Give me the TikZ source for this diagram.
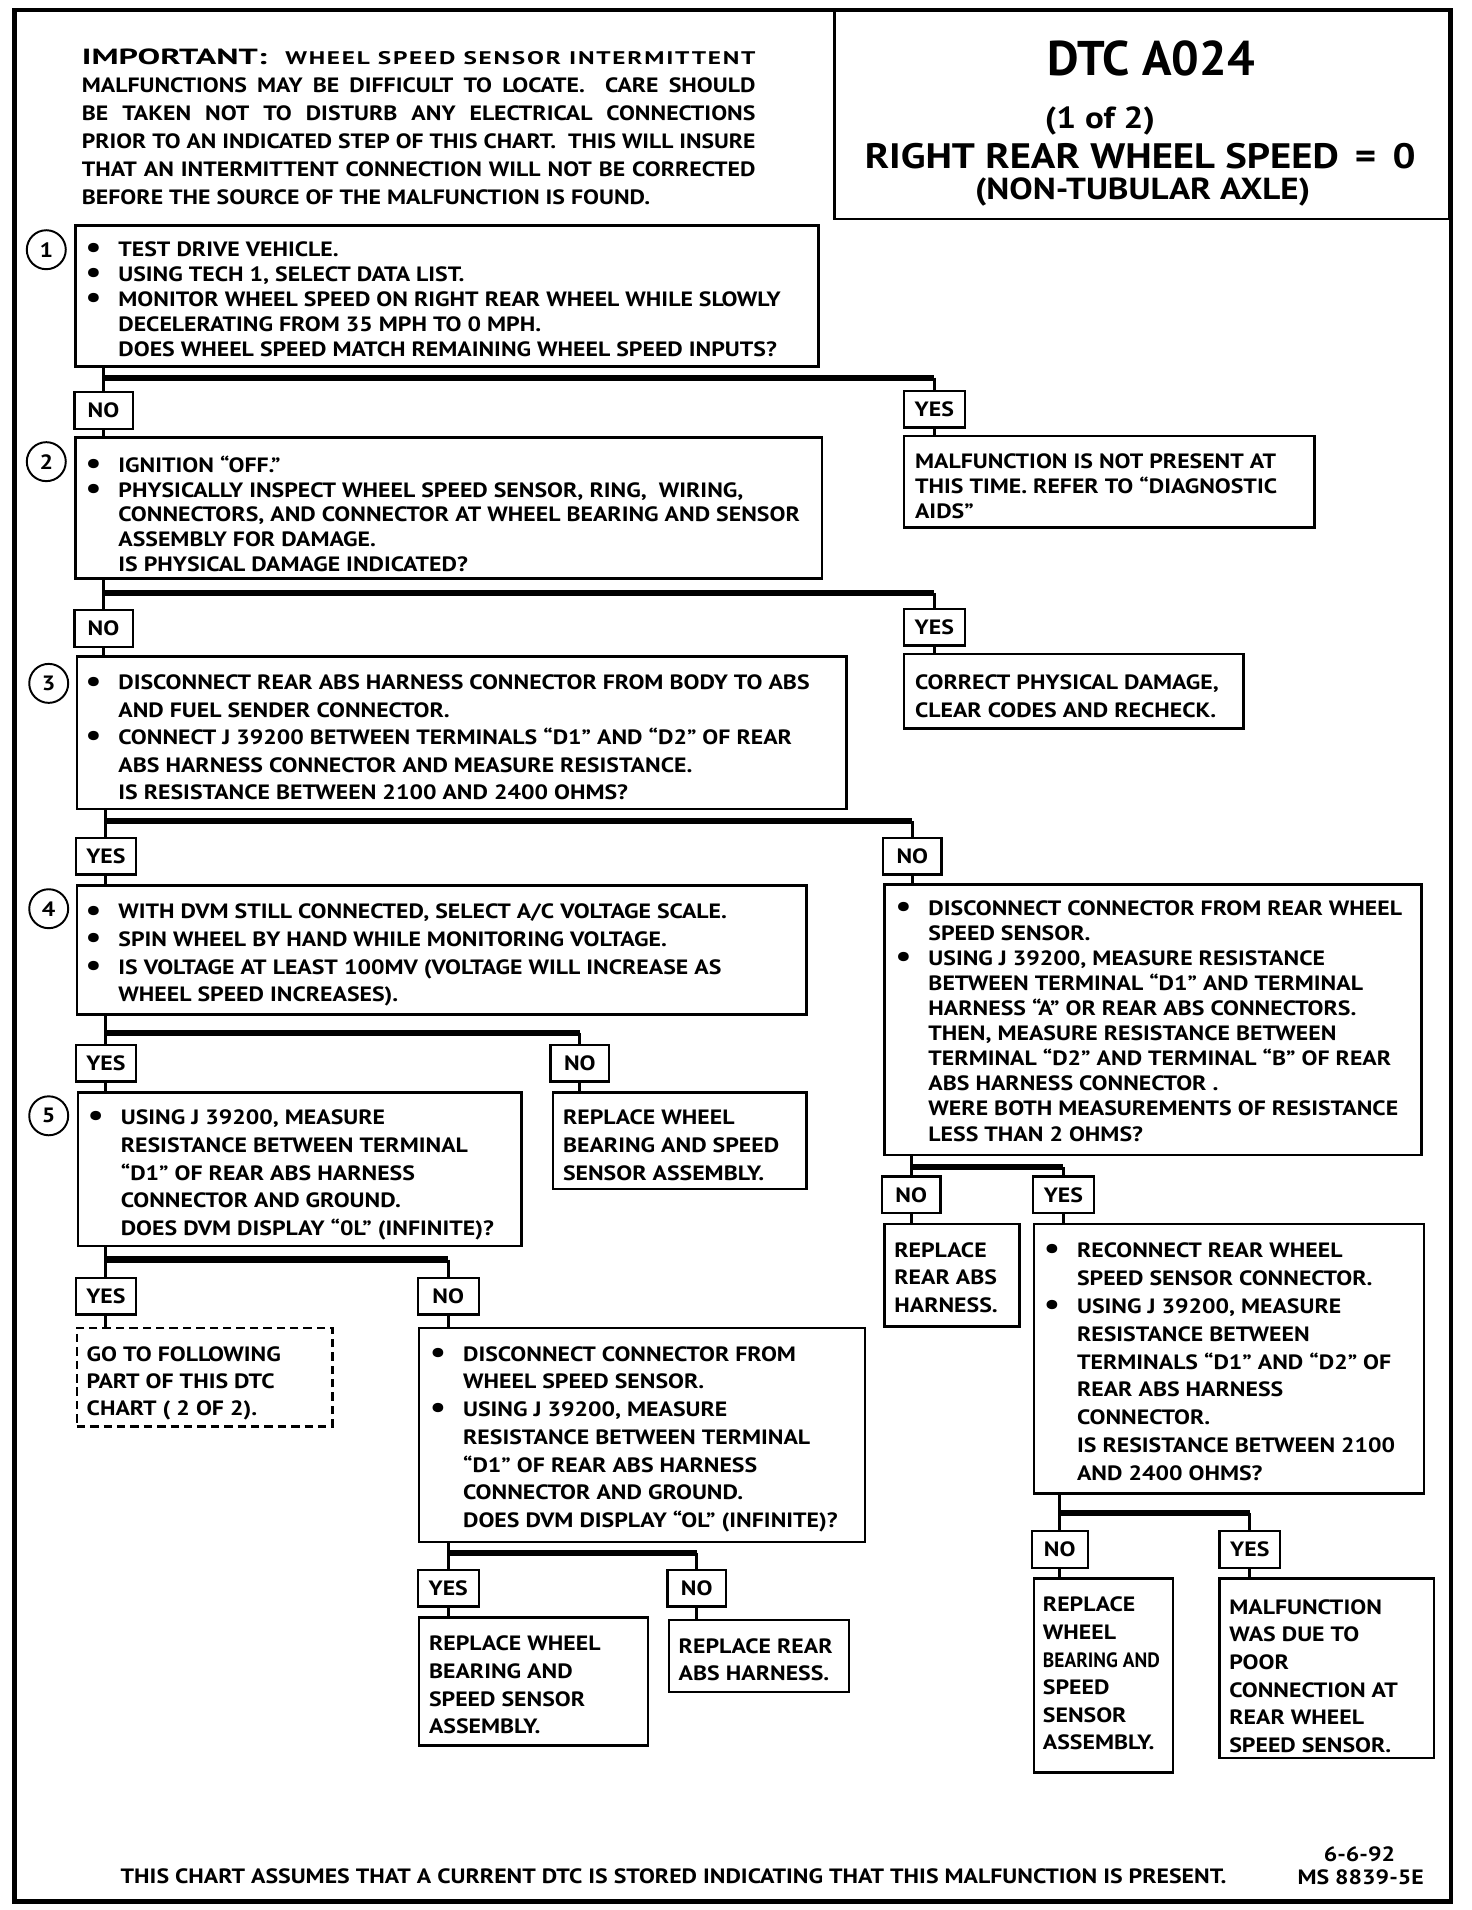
\documentclass[tikz,border=0pt]{standalone}
\usepackage{graphicx}
\usepackage{fontspec}
\setmainfont{PT Sans}[FakeStretch=1.15]
\newfontfamily\plainsans{PT Sans}
\newcommand{\blt}{\makebox[27pt][l]{\raisebox{-1pt}[0pt][0pt]{\fontsize{25}{20}\selectfont •}}}
\newcommand{\nbl}{\hspace*{27pt}}
\newcommand{\jline}[1]{\setbox0\hbox{#1}\ifdim\wd0>553pt \resizebox{553pt}{\height}{#1}\else\makebox[553pt][s]{#1}\fi}
\begin{document}
\begin{tikzpicture}[x=1pt,y=-1pt,
  box/.style={draw, line width=2pt, anchor=north west, inner sep=0pt},
  lab/.style={draw, line width=2pt, minimum width=48pt, minimum height=30pt, inner sep=0pt, font=\bfseries\fontsize{17}{17}\selectfont},
  txt/.style={font=\bfseries\fontsize{17}{#1}\selectfont, anchor=north west, yshift=11pt, inner sep=0pt, align=left, execute at begin node={\rule{0pt}{15pt}}},
  bar/.style={line width=5pt},
  con/.style={line width=2.5pt},
  num/.style={draw, circle, line width=1.6pt, minimum size=32pt, inner sep=0pt, font=\bfseries\fontsize{17}{17}\selectfont}]
\useasboundingbox (0,0) rectangle (1208,1568);
% frame and title
\draw[line width=3.5pt] (12,8) rectangle (1191,1561);
\draw[line width=2pt] (685,8) rectangle (1190,180);
\node[font=\plainsans\bfseries\fontsize{40}{40}\selectfont] (t1) at (945,48) {DTC A024};
\node[font=\bfseries\fontsize{25}{25}\selectfont] (t2) at (903,99) {(1 of 2)};
\node[font=\bfseries\fontsize{29}{29}\selectfont] (t3) at (936,128) {RIGHT REAR WHEEL SPEED \,=\, 0};
\node[font=\bfseries\fontsize{25}{25}\selectfont] (t4) at (938,158) {(NON-TUBULAR AXLE)};
\node[txt=23] (imp) at (67,51) {\resizebox{152pt}{\height}{\fontsize{18}{18}\selectfont IMPORTANT:}\hspace{15pt}\resizebox{386pt}{\height}{\fontsize{15}{15}\selectfont\addfontfeatures{LetterSpace=8}WHEEL SPEED SENSOR INTERMITTENT}\\
\jline{MALFUNCTIONS MAY BE DIFFICULT TO LOCATE.\ \ CARE SHOULD}\\
\jline{BE TAKEN NOT TO DISTURB ANY ELECTRICAL CONNECTIONS}\\
\jline{PRIOR TO AN INDICATED STEP OF THIS CHART.\ \ THIS WILL INSURE}\\
\jline{THAT AN INTERMITTENT CONNECTION WILL NOT BE CORRECTED}\\
BEFORE THE SOURCE OF THE MALFUNCTION IS FOUND.};
% step circles
\node[num] (c1) at (38,205) {1};
\node[num] (c2) at (38,379) {2};
\node[num] (c3) at (40,561) {3};
\node[num] (c4) at (40,746) {4};
\node[num] (c5) at (40,916) {5};
% boxes
\node[box, minimum width=610pt, minimum height=116pt] (b1) at (61,184) {};
\node[box, minimum width=613pt, minimum height=116pt] (b2) at (61,358) {};
\node[box, minimum width=337pt, minimum height=75pt] (y1) at (741,357) {};
\node[box, minimum width=632pt, minimum height=125pt] (b3) at (62,538) {};
\node[box, minimum width=279pt, minimum height=61pt] (y2) at (741,536) {};
\node[box, minimum width=599pt, minimum height=106pt] (b4) at (62,726) {};
\node[box, minimum width=441pt, minimum height=222pt] (r1) at (725,725) {};
\node[box, minimum width=364pt, minimum height=126pt] (b5) at (63,896) {};
\node[box, minimum width=208pt, minimum height=79pt] (n4) at (453,896) {};
\node[box, minimum width=111pt, minimum height=84pt] (r2) at (725,1004) {};
\node[box, minimum width=320pt, minimum height=221pt] (r3) at (848,1004) {};
\node[box, dash pattern=on 7pt off 4pt, minimum width=210pt, minimum height=81pt] (d5) at (62,1089) {};
\node[box, minimum width=366pt, minimum height=176pt] (b6) at (343,1089) {};
\node[box, minimum width=188pt, minimum height=105pt] (b6y) at (343,1327) {};
\node[box, minimum width=148pt, minimum height=59pt] (b6n) at (548,1329) {};
\node[box, minimum width=114pt, minimum height=159pt] (r3n) at (848,1295) {};
\node[box, minimum width=176pt, minimum height=147pt] (r3y) at (1000,1295) {};
% box texts
\node[txt=20.5] (tb1) at (70,209) {\blt TEST DRIVE VEHICLE.\\
\blt USING TECH 1, SELECT DATA LIST.\\
\blt MONITOR WHEEL SPEED ON RIGHT REAR WHEEL WHILE SLOWLY\\
\nbl DECELERATING FROM 35 MPH TO 0 MPH.\\
\nbl DOES WHEEL SPEED MATCH REMAINING WHEEL SPEED INPUTS?};
\node[txt=20.25] (tb2) at (70,385) {\blt IGNITION “OFF.”\\
\blt PHYSICALLY INSPECT WHEEL SPEED SENSOR, RING,\ \ WIRING,\\
\nbl CONNECTORS, AND CONNECTOR AT WHEEL BEARING AND SENSOR\\
\nbl ASSEMBLY FOR DAMAGE.\\
\nbl IS PHYSICAL DAMAGE INDICATED?};
\node[txt=20.5] (ty1) at (751,383) {MALFUNCTION IS NOT PRESENT AT\\
THIS TIME. REFER TO “DIAGNOSTIC\\
AIDS”};
\node[txt=22.5] (tb3) at (70,565) {\blt DISCONNECT REAR ABS HARNESS CONNECTOR FROM BODY TO ABS\\
\nbl AND FUEL SENDER CONNECTOR.\\
\blt CONNECT J 39200 BETWEEN TERMINALS “D1” AND “D2” OF REAR\\
\nbl ABS HARNESS CONNECTOR AND MEASURE RESISTANCE.\\
\nbl IS RESISTANCE BETWEEN 2100 AND 2400 OHMS?};
\node[txt=23] (ty2) at (751,565) {CORRECT PHYSICAL DAMAGE,\\
CLEAR CODES AND RECHECK.};
\node[txt=22.7] (tb4) at (70,753) {\blt WITH DVM STILL CONNECTED, SELECT A/C VOLTAGE SCALE.\\
\blt SPIN WHEEL BY HAND WHILE MONITORING VOLTAGE.\\
\blt IS VOLTAGE AT LEAST 100MV (VOLTAGE WILL INCREASE AS\\
\nbl WHEEL SPEED INCREASES).};
\node[txt=20.6] (tr1) at (735,750) {\blt DISCONNECT CONNECTOR FROM REAR WHEEL\\
\nbl SPEED SENSOR.\\
\blt USING J 39200, MEASURE RESISTANCE\\
\nbl BETWEEN TERMINAL “D1” AND TERMINAL\\
\nbl HARNESS “A” OR REAR ABS CONNECTORS.\\
\nbl THEN, MEASURE RESISTANCE BETWEEN\\
\nbl TERMINAL “D2” AND TERMINAL “B” OF REAR\\
\nbl ABS HARNESS CONNECTOR .\\
\nbl WERE BOTH MEASUREMENTS OF RESISTANCE\\
\nbl LESS THAN 2 OHMS?};
\node[txt=22.75] (tb5) at (72,922) {\blt USING J 39200, MEASURE\\
\nbl RESISTANCE BETWEEN TERMINAL\\
\nbl “D1” OF REAR ABS HARNESS\\
\nbl CONNECTOR AND GROUND.\\
\nbl DOES DVM DISPLAY “0L” (INFINITE)?};
\node[txt=23] (tn4) at (462,922) {REPLACE WHEEL\\
BEARING AND SPEED\\
SENSOR ASSEMBLY.};
\node[txt=22.5] (tr2) at (734,1031) {REPLACE\\
REAR ABS\\
HARNESS.};
\node[txt=22.9] (tr3) at (857,1031) {\blt RECONNECT REAR WHEEL\\
\nbl SPEED SENSOR CONNECTOR.\\
\blt USING J 39200, MEASURE\\
\nbl RESISTANCE BETWEEN\\
\nbl TERMINALS “D1” AND “D2” OF\\
\nbl REAR ABS HARNESS\\
\nbl CONNECTOR.\\
\nbl IS RESISTANCE BETWEEN 2100\\
\nbl AND 2400 OHMS?};
\node[txt=22.5] (td5) at (71,1116) {GO TO FOLLOWING\\
PART OF THIS DTC\\
CHART ( 2 OF 2).};
\node[txt=22.8] (tb6) at (353,1116) {\blt DISCONNECT CONNECTOR FROM\\
\nbl WHEEL SPEED SENSOR.\\
\blt USING J 39200, MEASURE\\
\nbl RESISTANCE BETWEEN TERMINAL\\
\nbl “D1” OF REAR ABS HARNESS\\
\nbl CONNECTOR AND GROUND.\\
\nbl DOES DVM DISPLAY “OL” (INFINITE)?};
\node[txt=22.7] (tb6y) at (352,1354) {REPLACE WHEEL\\
BEARING AND\\
SPEED SENSOR\\
ASSEMBLY.};
\node[txt=22] (tb6n) at (557,1356) {REPLACE REAR\\
ABS HARNESS.};
\node[txt=22.6] (tr3n) at (856,1322) {REPLACE\\
WHEEL\\
\resizebox{96pt}{\height}{BEARING AND}\\
SPEED\\
SENSOR\\
ASSEMBLY.};
\node[txt=22.6] (tr3y) at (1009,1324) {MALFUNCTION\\
WAS DUE TO\\
POOR\\
CONNECTION AT\\
REAR WHEEL\\
SPEED SENSOR.};
% labels
\node[lab] (l1n) at (85,337) {NO};
\node[lab, minimum width=50pt] (l1y) at (767,336) {YES};
\node[lab] (l2n) at (85,516) {NO};
\node[lab, minimum width=50pt] (l2y) at (767,515) {YES};
\node[lab, minimum width=49pt] (l3y) at (87,703) {YES};
\node[lab] (l3n) at (749,703) {NO};
\node[lab, minimum width=49pt] (l4y) at (87,873) {YES};
\node[lab] (l4n) at (476,873) {NO};
\node[lab] (lrn) at (748,981) {NO};
\node[lab, minimum width=50pt] (lry) at (873,981) {YES};
\node[lab, minimum width=49pt] (l5y) at (87,1064) {YES};
\node[lab, minimum width=50pt] (l5n) at (368,1064) {NO};
\node[lab, minimum width=50pt] (l6y) at (368,1304) {YES};
\node[lab] (l6n) at (572,1304) {NO};
\node[lab, minimum width=46pt] (l7n) at (870,1272) {NO};
\node[lab, minimum width=50pt] (l7y) at (1026,1272) {YES};
% junctions
\coordinate (j1) at (85,310);
\coordinate (j2) at (85,487);
\coordinate (j3) at (87,674);
\coordinate (j4) at (87,848);
\coordinate (jr) at (748,958);
\coordinate (j5) at (87,1034);
\coordinate (j6) at (368,1275);
\coordinate (j7) at (870,1242);
% branch 1
\draw[con] (b1.south -| l1n) -- (l1n.north);
\draw[bar] (j1) -- (j1 -| l1y);
\draw[con] (j1 -| l1y) -- (l1y.north);
\draw[con] (l1n.south) -- (l1n.south |- b2.north);
\draw[con] (l1y.south) -- (l1y.south |- y1.north);
% branch 2
\draw[con] (b2.south -| l2n) -- (l2n.north);
\draw[bar] (j2) -- (j2 -| l2y);
\draw[con] (j2 -| l2y) -- (l2y.north);
\draw[con] (l2n.south) -- (l2n.south |- b3.north);
\draw[con] (l2y.south) -- (l2y.south |- y2.north);
% branch 3
\draw[con] (b3.south -| l3y) -- (l3y.north);
\draw[bar] (j3) -- (j3 -| l3n);
\draw[con] (j3 -| l3n) -- (l3n.north);
\draw[con] (l3y.south) -- (l3y.south |- b4.north);
\draw[con] (l3n.south) -- (l3n.south |- r1.north);
% branch 4
\draw[con] (b4.south -| l4y) -- (l4y.north);
\draw[bar] (j4) -- (j4 -| l4n);
\draw[con] (j4 -| l4n) -- (l4n.north);
\draw[con] (l4y.south) -- (l4y.south |- b5.north);
\draw[con] (l4n.south) -- (l4n.south |- n4.north);
% branch right
\draw[con] (r1.south -| lrn) -- (lrn.north);
\draw[bar] (jr) -- (jr -| lry);
\draw[con] (jr -| lry) -- (lry.north);
\draw[con] (lrn.south) -- (lrn.south |- r2.north);
\draw[con] (lry.south) -- (lry.south |- r3.north);
% branch 5
\draw[con] (b5.south -| l5y) -- (l5y.north);
\draw[bar] (j5) -- (j5 -| l5n);
\draw[con] (j5 -| l5n) -- (l5n.north);
\draw[con] (l5y.south) -- (l5y.south |- d5.north);
\draw[con] (l5n.south) -- (l5n.south |- b6.north);
% branch 6
\draw[con] (b6.south -| l6y) -- (l6y.north);
\draw[bar] (j6) -- (j6 -| l6n);
\draw[con] (j6 -| l6n) -- (l6n.north);
\draw[con] (l6y.south) -- (l6y.south |- b6y.north);
\draw[con] (l6n.south) -- (l6n.south |- b6n.north);
% branch 7
\draw[con] (r3.south -| l7n) -- (l7n.north);
\draw[bar] (j7) -- (j7 -| l7y);
\draw[con] (j7 -| l7y) -- (l7y.north);
\draw[con] (l7n.south) -- (l7n.south |- r3n.north);
\draw[con] (l7y.south) -- (l7y.south |- r3y.north);
% footer
\node[font=\bfseries\fontsize{17}{17}\selectfont] (ft) at (553,1540) {THIS CHART ASSUMES THAT A CURRENT DTC IS STORED INDICATING THAT THIS MALFUNCTION IS PRESENT.};
\node[font=\bfseries\fontsize{17}{17}\selectfont] (dt) at (1116,1522) {6-6-92};
\node[font=\bfseries\fontsize{17}{17}\selectfont] (ms) at (1117,1541) {MS 8839-5E};
\end{tikzpicture}
\end{document}
